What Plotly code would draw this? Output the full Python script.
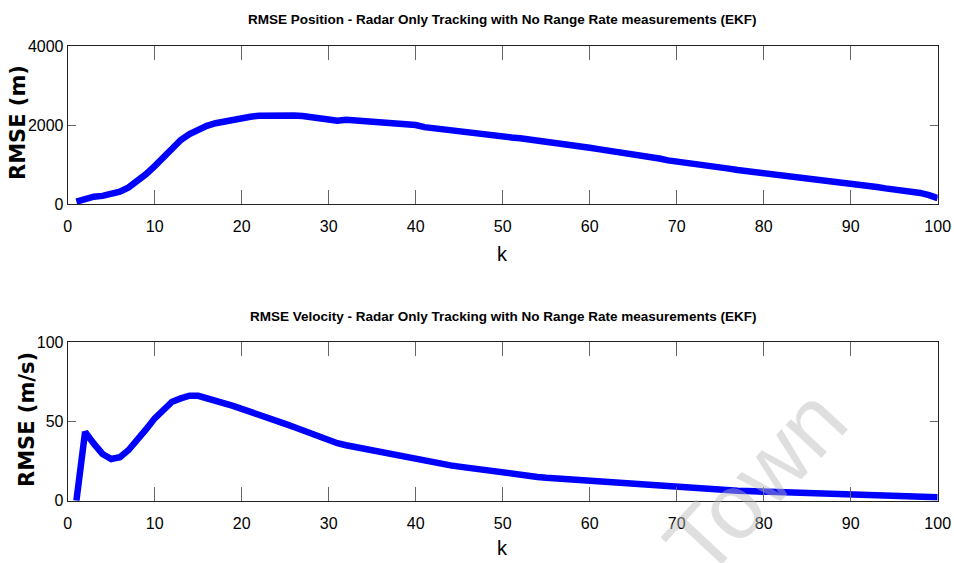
import plotly.graph_objects as go
from plotly.subplots import make_subplots

k = list(range(1, 101))

rmse_position = [
    60, 140, 185, 205, 245, 310, 420, 570, 755, 960,
    1195, 1430, 1620, 1770, 1890, 1980, 2045, 2095, 2130, 2175,
    2210, 2235, 2245, 2250, 2250, 2240, 2230, 2205, 2175, 2155,
    2110, 2135, 2120, 2100, 2100, 2085, 2050, 2020, 2010, 2000,
    1945, 1915, 1885, 1860, 1830, 1795, 1770, 1745, 1720, 1705,
    1685, 1665, 1640, 1600, 1565, 1530, 1500, 1485, 1455, 1425,
    1390, 1360, 1325, 1290, 1260, 1225, 1190, 1150, 1105, 1080,
    1055, 1020, 995, 970, 935, 895, 860, 835, 820, 795,
    770, 735, 710, 685, 650, 625, 590, 565, 540, 515,
    480, 455, 430, 395, 370, 345, 320, 280, 225, 150,
]

rmse_velocity = [
    0, 43.5, 36, 29.5, 26.3, 27.5, 32, 38, 45, 52,
    58, 62.5, 64.6, 66.3, 66.2, 64.8, 63.5, 61.8, 59.8, 58,
    56.3, 54.5, 52.5, 50.5, 48.5, 46.5, 44.3, 42, 40, 38.3,
    36.3, 35, 33.9, 32.6, 31.6, 30.5, 29.3, 28, 27.2, 26,
    24.9, 24, 23.2, 22.3, 21.5, 20.7, 19.9, 19.1, 18.2, 17.4,
    16.7, 16.1, 15.5, 15, 14.5, 14.1, 13.7, 13.3, 12.8, 12.4,
    11.9, 11.5, 11.0, 10.6, 10.2, 9.8, 9.4, 9.0, 8.6, 8.2,
    8.0, 7.7, 7.4, 7.1, 6.8, 6.5, 6.3, 6.1, 5.9, 5.7,
    5.4, 5.1, 4.8, 4.6, 4.4, 4.2, 4.0, 3.8, 3.6, 3.4,
    3.2, 3.1, 2.9, 2.8, 2.6, 2.5, 2.4, 2.3, 2.2, 2.1,
]

x_ticks = [0, 10, 20, 30, 40, 50, 60, 70, 80, 90, 100]
pos_ticks = [0, 2000, 4000]
vel_ticks = [0, 50, 100]

title_pos = "RMSE Position - Radar Only Tracking with No Range Rate measurements (EKF)"
title_vel = "RMSE Velocity - Radar Only Tracking with No Range Rate measurements (EKF)"

W, H = 954, 563
SANS = "Liberation Sans, Arial, sans-serif"

fig = make_subplots(rows=2, cols=1)
fig.add_trace(go.Scatter(x=k, y=rmse_position, mode="lines",
                         line=dict(color="#0000FF", width=6.5), showlegend=False), row=1, col=1)
fig.add_trace(go.Scatter(x=k, y=rmse_velocity, mode="lines",
                         line=dict(color="#0000FF", width=6.5), showlegend=False), row=2, col=1)

xdom = [67.7 / W, 937.7 / W]
ydom_top = [(H - 204) / H, (H - 46) / H]
ydom_bot = [(H - 500.7) / H, (H - 342.3) / H]

axis_common = dict(showline=True, linecolor="#222222", linewidth=1, mirror="ticks",
                   ticks="inside", tickcolor="#666666", tickwidth=1,
                   showgrid=False, zeroline=False, automargin=False,
                   tickfont=dict(family=SANS, size=16, color="black"))

fig.update_xaxes(range=[0, 100], tickvals=x_ticks, ticklen=14, domain=xdom,
                 ticklabelstandoff=8, **axis_common)
fig.update_yaxes(ticklen=8, **axis_common)
fig.update_yaxes(range=[0, 4000], tickvals=pos_ticks, domain=ydom_top, row=1, col=1)
fig.update_yaxes(range=[0, 100], tickvals=vel_ticks, domain=ydom_bot, row=2, col=1)

def px(xp, yp):
    return xp / W, 1 - yp / H

annos = []
for text, yc in [(title_pos, 20), (title_vel, 316)]:
    xx, yy = px(502.7, yc)
    annos.append(dict(text=f"<b>{text}</b>", x=xx, y=yy, xref="paper", yref="paper",
                      showarrow=False, xanchor="center", yanchor="middle",
                      font=dict(family=SANS, size=13.5, color="black")))
for yc in [254, 548]:
    xx, yy = px(502.7, yc)
    annos.append(dict(text="k", x=xx, y=yy, xref="paper", yref="paper",
                      showarrow=False, xanchor="center", yanchor="middle",
                      font=dict(family=SANS, size=20, color="black")))
for text, xc, yc in [("RMSE (m)", 18.5, 122.5), ("RMSE (m/s)", 26.5, 419.5)]:
    xx, yy = px(xc, yc)
    annos.append(dict(text=f"<b>{text}</b>", x=xx, y=yy, xref="paper", yref="paper",
                      showarrow=False, xanchor="center", yanchor="middle", textangle=-90,
                      font=dict(family="DejaVu Sans, sans-serif", size=21, color="black")))
xx, yy = px(755, 482)
annos.append(dict(text="Town", x=xx, y=yy, xref="paper", yref="paper",
                  showarrow=False, xanchor="center", yanchor="middle", textangle=-47,
                  font=dict(family=SANS, size=92, color="rgba(185,185,185,0.45)")))

fig.update_layout(width=W, height=H, margin=dict(l=0, r=0, t=0, b=0),
                  paper_bgcolor="white", plot_bgcolor="white", annotations=annos)

fig.write_html("out.html", config={"displayModeBar": False},
               post_script="document.body.style.margin='0';document.body.style.overflow='hidden';")
